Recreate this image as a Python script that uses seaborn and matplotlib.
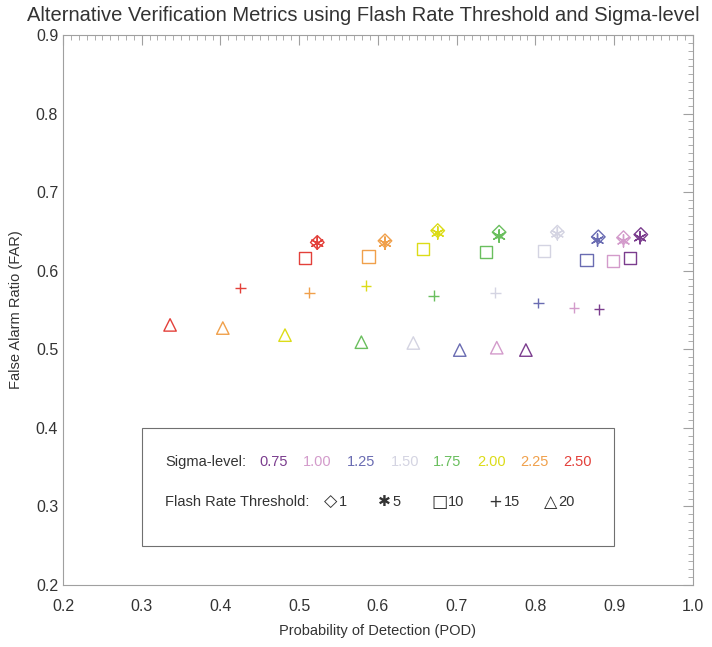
import pandas as pd
import seaborn as sns
import matplotlib.pyplot as plt
from matplotlib.patches import Rectangle

# sigma levels and their colours (purple -> red)
sigma_levels = ["0.75", "1.00", "1.25", "1.50", "1.75", "2.00", "2.25", "2.50"]
sigma_colors = ["#7b3d8e", "#d39bcb", "#6a6cb2", "#d4d4e2", "#6abf5e", "#dcdc18", "#f0a04b", "#e3403a"]

thresholds = [1, 5, 10, 15, 20]

# POD / FAR for each threshold, ordered by sigma level
pod_1 = [0.934, 0.912, 0.880, 0.828, 0.754, 0.676, 0.609, 0.523]
far_1 = [0.646, 0.642, 0.643, 0.649, 0.649, 0.651, 0.638, 0.636]
pod_5 = [0.933, 0.912, 0.879, 0.828, 0.754, 0.676, 0.609, 0.523]
far_5 = [0.642, 0.638, 0.639, 0.647, 0.644, 0.648, 0.635, 0.635]
pod_10 = [0.920, 0.899, 0.865, 0.811, 0.737, 0.657, 0.588, 0.507]
far_10 = [0.616, 0.612, 0.614, 0.625, 0.624, 0.628, 0.618, 0.616]
pod_15 = [0.881, 0.849, 0.804, 0.749, 0.671, 0.585, 0.513, 0.425]
far_15 = [0.551, 0.553, 0.559, 0.572, 0.568, 0.581, 0.572, 0.578]
pod_20 = [0.788, 0.751, 0.704, 0.645, 0.579, 0.482, 0.403, 0.336]
far_20 = [0.499, 0.502, 0.499, 0.508, 0.509, 0.518, 0.527, 0.531]

pods = [pod_1, pod_5, pod_10, pod_15, pod_20]
fars = [far_1, far_5, far_10, far_15, far_20]

rows = []
for t, p, f in zip(thresholds, pods, fars):
    for s, x, y in zip(sigma_levels, p, f):
        rows.append({"threshold": t, "sigma": s, "POD": x, "FAR": y})
df = pd.DataFrame(rows)

sns.set_style("white")
plt.rcParams['font.family'] = ['Liberation Sans', 'DejaVu Sans']
text_col = "#333333"
axis_col = "#a0a0a0"

fig = plt.figure(figsize=(7.12, 6.47), dpi=100)
ax = fig.add_axes([0.0885, 0.0958, 0.8845, 0.8502])

palette = dict(zip(sigma_levels, sigma_colors))
marker_map = {1: "D", 5: (6, 2, 0), 10: "s", 15: "+", 20: "^"}
size_map = {1: 48, 5: 80, 10: 78, 15: 60, 20: 80}

for t in thresholds:
    sub = df[df["threshold"] == t]
    sns.scatterplot(data=sub, x="POD", y="FAR", hue="sigma", palette=palette,
                    marker=marker_map[t], s=size_map[t], legend=False, ax=ax)

# hollow markers, IDL style
for coll in ax.collections:
    fc = coll.get_facecolors()
    if len(fc):
        coll.set_edgecolors(fc)
    coll.set_facecolors("none")
    coll.set_linewidths(1.0)

ax.set_xlim(0.2, 1.0)
ax.set_ylim(0.2, 0.9)
ax.set_xticks([0.2, 0.3, 0.4, 0.5, 0.6, 0.7, 0.8, 0.9, 1.0])
ax.set_yticks([0.2, 0.3, 0.4, 0.5, 0.6, 0.7, 0.8, 0.9])
ax.set_xticks([i / 100 for i in range(20, 101)], minor=True)
ax.set_yticks([i / 100 for i in range(20, 91)], minor=True)
ax.tick_params(which="both", direction="in", top=True, right=True,
               color=axis_col, labelcolor=text_col, labelsize=11.5)
ax.tick_params(which="major", length=7, width=0.8)
ax.tick_params(which="minor", length=3.5, width=0.6)
ax.tick_params(axis="x", pad=10)
for sp in ax.spines.values():
    sp.set_color(axis_col)
    sp.set_linewidth(0.8)

ax.set_xlabel("Probability of Detection (POD)", fontsize=10.5, color=text_col, labelpad=7)
ax.set_ylabel("False Alarm Ratio (FAR)", fontsize=10.5, color=text_col, labelpad=9)
fig.suptitle("Alternative Verification Metrics using Flash Rate Threshold and Sigma-level",
             x=0.51, y=0.99, fontsize=14.5, color=text_col)

# legend box
ax.add_patch(Rectangle((0.3, 0.25), 0.6, 0.15, fill=False, edgecolor="#707070", lw=0.8))
ax.text(0.33, 0.357, "Sigma-level:", fontsize=10.5, color=text_col, va="center")
sig_x = [0.450, 0.505, 0.561, 0.616, 0.670, 0.726, 0.781, 0.835]
for s, c, x in zip(sigma_levels, sigma_colors, sig_x):
    ax.text(x, 0.357, s, fontsize=10.5, color=c, va="center")

ax.text(0.33, 0.306, "Flash Rate Threshold:", fontsize=10.5, color=text_col, va="center")
sym_labels = ["\u25c7", "\u2731", "\u25a1", "+", "\u25b3"]
sym_size = [12.5, 11, 12.5, 12, 12.5]
sym_x = [0.540, 0.608, 0.678, 0.749, 0.819]
num_x = [0.5507, 0.618, 0.689, 0.760, 0.829]
for sym, fs, t, x, xn in zip(sym_labels, sym_size, thresholds, sym_x, num_x):
    ax.text(x, 0.306, sym, fontsize=fs, color=text_col, va="center", ha="center",
            family="DejaVu Sans")
    ax.text(xn, 0.306, str(t), fontsize=10.5, color=text_col, va="center")

fig.savefig("out.png", dpi=100)
